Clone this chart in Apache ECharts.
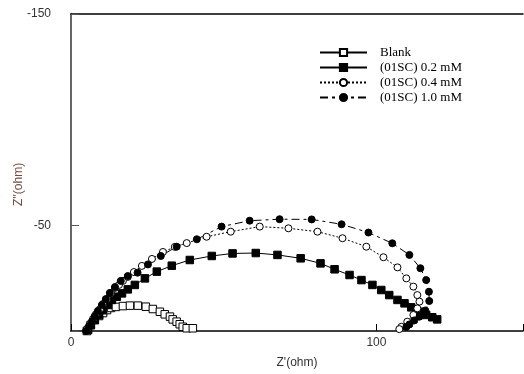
<!DOCTYPE html>
<html>
<head>
<meta charset="utf-8">
<script src="https://cdn.jsdelivr.net/npm/echarts@6/dist/echarts.min.js"></script>
<style>
  html, body { margin: 0; padding: 0; background: #fff; }
  #chart { width: 524px; height: 374px; }
</style>
</head>
<body>
<div id="chart"></div>
<script>
// Nyquist data: [Z' (ohm), Z'' (ohm)]
const blank = [
  [5.2, 0], [6.5, -2.8], [7.8, -5.2], [9.2, -7.1], [10.5, -8.5], [11.8, -9.9],
  [13.1, -10.9], [14.7, -11.4], [17.0, -11.8], [19.3, -12.0], [21.9, -12.0],
  [24.5, -11.5], [26.8, -10.4], [29.1, -9.1], [30.7, -7.9], [32.4, -6.8],
  [33.3, -5.5], [34.6, -4.4], [35.6, -3.2], [36.6, -2.0], [37.9, -1.3], [39.9, -1.3]
]
const sc02 = [
  [5.6, -0.5], [6.5, -2.8], [7.8, -5.2], [9.2, -7.6], [10.5, -9.9], [12.1, -12.3],
  [13.4, -14.7], [15.0, -16.2], [16.7, -17.8], [18.6, -19.7], [20.9, -21.8],
  [24.2, -24.9], [28.1, -28.1], [33.0, -30.9], [38.9, -33.6], [46.1, -35.5],
  [52.9, -36.7], [60.5, -36.9], [67.6, -36.0], [75.2, -34.4], [81.7, -32.0],
  [86.3, -29.2], [91.2, -26.5], [95.1, -24.1], [98.7, -21.8], [101.6, -19.4],
  [104.2, -17.0], [106.9, -14.7], [109.2, -13.1], [111.4, -11.2], [114.1, -9.1],
  [116.3, -7.6], [118.3, -6.5], [119.9, -5.5]
]
const sc04 = [
  [5.2, -0.9], [6.2, -3.3], [7.2, -5.7], [8.2, -8.0], [9.5, -10.4], [10.5, -12.8],
  [11.8, -15.1], [13.1, -18.0], [14.4, -20.4], [15.7, -21.8], [17.0, -23.7],
  [18.6, -25.6], [20.6, -27.9], [23.2, -30.8], [26.5, -34.1], [30.1, -37.4],
  [34.0, -39.8], [37.9, -41.6], [44.4, -44.6], [52.3, -47.0], [61.8, -49.4],
  [71.2, -48.6], [80.7, -47.0], [88.9, -43.9], [96.7, -39.9], [102.3, -34.9],
  [106.9, -30.1], [109.8, -24.9], [112.1, -21.0], [113.4, -17.0], [114.1, -13.9],
  [113.4, -10.7], [112.1, -7.6], [110.1, -4.4], [108.2, -2.0], [107.5, -0.9]
]
const sc10 = [
  [4.9, 0], [5.9, -2.4], [6.9, -4.7], [7.8, -7.1], [8.8, -9.5], [10.1, -12.3],
  [11.4, -15.1], [12.7, -18.0], [14.4, -20.8], [16.3, -23.7], [18.6, -26.0],
  [21.8, -27.6], [25.2, -31.5], [29.4, -35.5], [34.6, -39.9], [41.2, -43.4],
  [49.3, -49.4], [58.5, -52.2], [68.3, -52.9], [78.8, -52.8], [88.6, -50.5],
  [97.4, -46.6], [105.2, -41.5], [110.8, -36.0], [114.4, -29.7], [116.3, -24.1],
  [117.2, -18.6], [117.3, -14.2], [116.0, -9.7], [114.1, -6.8], [112.4, -5.0],
  [110.8, -3.1], [109.8, -1.9]
]
const seriesNames = ['Blank', '(01SC) 0.2 mM', '(01SC) 0.4 mM', '(01SC) 1.0 mM']
const xLabels = [0, 100]
const yLabels = [-150, -50]

const chart = echarts.init(document.getElementById('chart'))

function makeSeries(name, data, symbol, filled, dash) {
  return {
    name: name,
    type: 'line',
    data: data,
    symbol: symbol,
    symbolSize: symbol === 'rect' ? 7.5 : 7,
    showSymbol: true,
    lineStyle: { color: '#000', width: 1, type: dash },
    itemStyle: {
      color: filled ? '#000' : '#fff',
      borderColor: '#000',
      borderWidth: 1
    }
  }
}

const option = {
  animation: false,
  grid: { left: 71, right: 1, top: 14, bottom: 43, outerBoundsMode: 'none', containLabel: false },
  legend: {
    orient: 'vertical',
    left: 314,
    top: 41,
    itemWidth: 47,
    itemHeight: 9,
    itemGap: 2,
    data: seriesNames,
    textStyle: {
      fontFamily: 'Liberation Serif',
      fontSize: 13,
      color: '#000',
      padding: [0, 0, 0, 8]
    }
  },
  xAxis: [
    {
      type: 'value',
      min: 0,
      max: 148,
      interval: 100,
      name: "Z'(ohm)",
      nameLocation: 'middle',
      nameGap: 26,
      nameTextStyle: { fontFamily: 'Liberation Sans', fontSize: 12, color: '#333' },
      axisLine: { show: true, lineStyle: { color: '#000', width: 1.5 } },
      axisTick: { show: true, inside: true, length: 7, lineStyle: { color: '#000' } },
      axisLabel: {
        fontFamily: 'Liberation Sans',
        fontSize: 12,
        color: '#333',
        margin: 6,
        formatter: (v) => (xLabels.includes(v) ? String(v) : '')
      },
      splitLine: { show: false }
    },
    {
      type: 'value',
      position: 'top',
      min: 0,
      max: 148,
      axisLine: { show: true, lineStyle: { color: '#000', width: 1.5 } },
      axisTick: { show: false },
      axisLabel: { show: false },
      splitLine: { show: false }
    }
  ],
  yAxis: {
    type: 'value',
    min: -150,
    max: 0,
    interval: 100,
    inverse: true,
    name: "Z''(ohm)",
    nameLocation: 'middle',
    nameGap: 46,
    nameMoveOverlap: false,
    nameTextStyle: {
      fontFamily: 'Liberation Sans',
      fontSize: 12,
      color: '#7a4b3c',
      padding: [0, 24, 0, 0]
    },
    axisLine: { show: true, lineStyle: { color: '#666', width: 2 } },
    axisTick: { show: true, inside: true, length: 8, lineStyle: { color: '#555' } },
    axisLabel: {
      fontFamily: 'Liberation Sans',
      fontSize: 12,
      color: '#333',
      margin: 20,
      formatter: (v) => (yLabels.includes(v) ? String(v) : '')
    },
    splitLine: { show: false }
  },
  series: [
    makeSeries(seriesNames[0], blank, 'rect', false, 'solid'),
    makeSeries(seriesNames[1], sc02, 'rect', true, 'solid'),
    makeSeries(seriesNames[2], sc04, 'circle', false, [2, 2]),
    makeSeries(seriesNames[3], sc10, 'circle', true, [8, 4, 3, 4])
  ]
}

chart.setOption(option)
</script>
</body>
</html>
